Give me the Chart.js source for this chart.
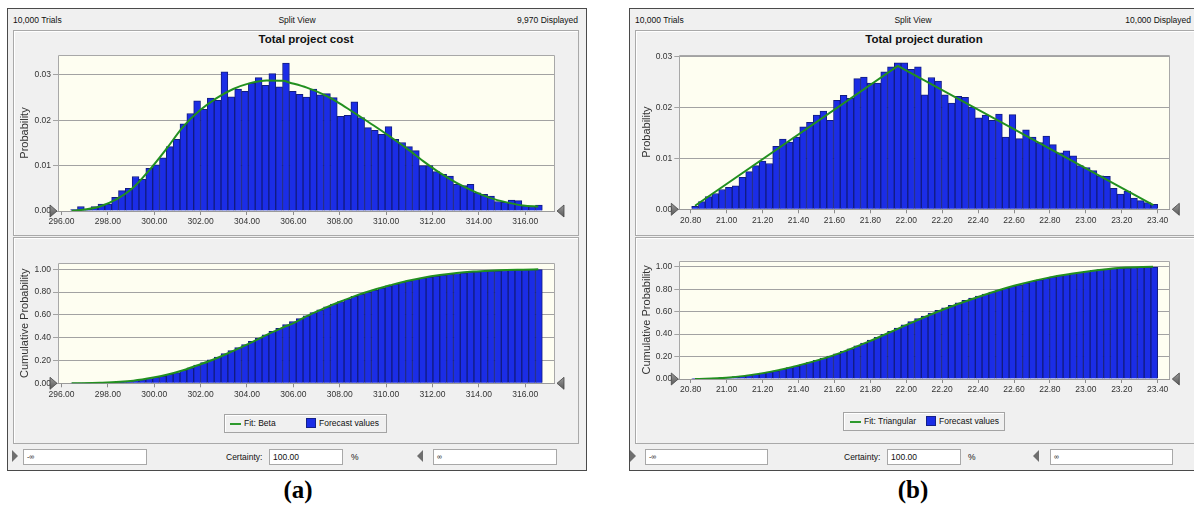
<!DOCTYPE html>
<html>
<head>
<meta charset="utf-8">
<script src="https://cdn.jsdelivr.net/npm/chart.js@4.4.1/dist/chart.umd.min.js"></script>
<style>
  html, body { margin: 0; padding: 0; }
  body { width: 1194px; height: 506px; background: #fff; position: relative; overflow: hidden;
         font-family: "Liberation Sans", Arial, sans-serif; }
  .abs { position: absolute; }
  .panel { position: absolute; background: #f0f0f0; border: 1px solid #4a4a4a; box-sizing: border-box; }
  .frame { position: absolute; border: 1px solid #a9a9a9; box-sizing: border-box; box-shadow: inset 1px 1px 0 #fff; }
  .t { position: absolute; font-size: 8.5px; color: #111; white-space: nowrap; line-height: 10px; }
  .title { position: absolute; font-size: 11.5px; font-weight: bold; color: #111; white-space: nowrap; line-height: 14px; text-align: center; }
  canvas { position: absolute; z-index: 2; }
  .legend { position: absolute; border: 1px solid #a4a4a4; box-sizing: border-box; box-shadow: inset 1px 1px 0 #fff; background: #f0f0f0; }
  .swl { position: absolute; height: 2px; background: #2e9a2e; }
  .sws { position: absolute; width: 10px; height: 10px; background: #1b2de6; box-sizing: border-box; border: 1px solid #14208a; }
  .box { position: absolute; height: 16px; background: #fff; border: 1px solid #a8a8a8; box-sizing: border-box; font-size: 8.5px; line-height: 14px; padding-left: 3px; color: #111; }
  .box.small { font-size: 7px; }
  .triR { position: absolute; width: 0; height: 0; border-top: 6.5px solid transparent; border-bottom: 6.5px solid transparent; border-left: 6px solid #6e6e6e; }
  .triL { position: absolute; width: 0; height: 0; border-top: 6.5px solid transparent; border-bottom: 6.5px solid transparent; border-right: 6px solid #6e6e6e; }
  .cap { position: absolute; font-family: "Liberation Serif", "Times New Roman", serif; font-weight: bold; font-size: 25px; line-height: 28px; width: 80px; text-align: center; color: #000; }
</style>
</head>
<body>

<!-- Panel (a): Total project cost -->
<div class="panel" style="left:7px;top:8px;width:580px;height:463px;"></div>
<div class="t" style="left:13px;top:15px;">10,000 Trials</div>
<div class="t" style="left:247px;top:15px;width:100px;text-align:center;">Split View</div>
<div class="t" style="left:478px;top:15px;width:100px;text-align:right;">9,970 Displayed</div>
<div class="frame" style="left:13px;top:30px;width:566px;height:206px;"></div>
<div class="frame" style="left:13px;top:237px;width:566px;height:207px;"></div>
<div class="title" style="left:206px;top:32px;width:200px;">Total project cost</div>
<canvas id="costPdf"></canvas>
<canvas id="costCdf"></canvas>
<div class="legend" style="left:224px;top:414px;width:163px;height:19px;"></div>
<div class="swl" style="left:230px;top:423px;width:11px;"></div>
<div class="t" style="left:244px;top:418px;">Fit: Beta</div>
<div class="sws" style="left:306px;top:418px;"></div>
<div class="t" style="left:319px;top:418px;">Forecast values</div>
<div class="triR" style="left:12px;top:450px;"></div>
<div class="box small" style="left:23px;top:449px;width:124px;">-∞</div>
<div class="t" style="left:226px;top:452px;">Certainty:</div>
<div class="box" style="left:269px;top:449px;width:74px;">100.00</div>
<div class="t" style="left:351px;top:452px;">%</div>
<div class="triL" style="left:417px;top:450px;"></div>
<div class="box small" style="left:433px;top:449px;width:124px;">∞</div>
<div class="cap" style="left:258px;top:476px;">(a)</div>

<!-- Panel (b): Total project duration -->
<div class="panel" style="left:629px;top:8px;width:580px;height:463px;"></div>
<div class="t" style="left:635px;top:15px;">10,000 Trials</div>
<div class="t" style="left:863px;top:15px;width:100px;text-align:center;">Split View</div>
<div class="t" style="left:1091px;top:15px;width:100px;text-align:right;">10,000 Displayed</div>
<div class="frame" style="left:635px;top:30px;width:570px;height:206px;"></div>
<div class="frame" style="left:635px;top:237px;width:570px;height:207px;"></div>
<div class="title" style="left:824px;top:32px;width:200px;">Total project duration</div>
<canvas id="durPdf"></canvas>
<canvas id="durCdf"></canvas>
<div class="legend" style="left:843px;top:412px;width:162px;height:19px;"></div>
<div class="swl" style="left:850px;top:421px;width:11px;"></div>
<div class="t" style="left:864px;top:416px;">Fit: Triangular</div>
<div class="sws" style="left:926px;top:416px;"></div>
<div class="t" style="left:939px;top:416px;">Forecast values</div>
<div class="triR" style="left:630px;top:450px;"></div>
<div class="box small" style="left:645px;top:449px;width:123px;">-∞</div>
<div class="t" style="left:844px;top:452px;">Certainty:</div>
<div class="box" style="left:887px;top:449px;width:74px;">100.00</div>
<div class="t" style="left:968px;top:452px;">%</div>
<div class="triL" style="left:1033px;top:450px;"></div>
<div class="box small" style="left:1050px;top:449px;width:123px;">∞</div>
<div class="cap" style="left:873px;top:476px;">(b)</div>

<script>
// ---------- Total project cost ----------
const costBinStart = 296.395;
const costBinWidth = 0.2948;
const costProb = [
  0.0003, 0.0010, 0.0004, 0.0010, 0.0015, 0.0015, 0.0030, 0.0045, 0.0050, 0.0076,
  0.0070, 0.0094, 0.0102, 0.0117, 0.0142, 0.0158, 0.0192, 0.0215, 0.0243, 0.0224,
  0.0249, 0.0244, 0.0307, 0.0252, 0.0269, 0.0264, 0.0282, 0.0294, 0.0277, 0.0303,
  0.0274, 0.0326, 0.0264, 0.0257, 0.0251, 0.0269, 0.0256, 0.0259, 0.0250, 0.0209,
  0.0211, 0.0241, 0.0206, 0.0184, 0.0178, 0.0169, 0.0186, 0.0158, 0.0151, 0.0142,
  0.0133, 0.0100, 0.0100, 0.0087, 0.0081, 0.0077, 0.0059, 0.0056, 0.0059, 0.0040,
  0.0037, 0.0033, 0.0021, 0.0019, 0.0024, 0.0023, 0.0012, 0.0010, 0.0013
];
// Beta fit curve
const costFitX = [296.44, 296.66, 297.66, 298.38, 299.10, 299.82, 300.54, 301.25, 301.97, 302.69,
                  303.41, 304.13, 304.85, 305.56, 305.85, 306.58, 307.29, 308.01, 308.73, 309.45,
                  310.17, 310.89, 311.60, 312.32, 313.04, 313.76, 314.48, 315.20, 315.91, 316.56];
const costFitY = [0.0000, 0.0001, 0.0010, 0.0026, 0.0052, 0.0092, 0.0138, 0.0186, 0.0222, 0.0249,
                  0.0269, 0.0282, 0.0288, 0.0287, 0.0283, 0.0272, 0.0257, 0.0237, 0.0213, 0.0189,
                  0.0164, 0.0138, 0.0110, 0.0084, 0.0062, 0.0044, 0.0029, 0.0019, 0.0012, 0.0010];
// Beta fit, cumulative
const costCumFitX = [296.44, 297.66, 299.10, 299.96, 300.54, 301.25, 301.97, 302.69, 303.41, 304.13,
                     304.85, 305.56, 306.07, 306.58, 307.29, 308.01, 308.73, 309.45, 310.17, 310.89,
                     311.60, 312.32, 313.04, 313.76, 314.48, 315.20, 315.91, 316.56];
const costCumFitY = [0.000, 0.005, 0.023, 0.050, 0.075, 0.115, 0.165, 0.220, 0.285, 0.352,
                     0.425, 0.490, 0.535, 0.590, 0.655, 0.716, 0.772, 0.819, 0.860, 0.898,
                     0.927, 0.950, 0.968, 0.980, 0.988, 0.994, 0.997, 1.000];
const costTicks = [296, 298, 300, 302, 304, 306, 308, 310, 312, 314, 316];
const costProbTicks = [0, 0.01, 0.02, 0.03];

// ---------- Total project duration ----------
const durBinStart = 20.8054;
const durBinWidth = 0.0376;
const durProb = [
  0.0006, 0.0015, 0.0025, 0.0031, 0.0039, 0.0043, 0.0046, 0.0063, 0.0074, 0.0086,
  0.0095, 0.0090, 0.0124, 0.0138, 0.0132, 0.0142, 0.0162, 0.0171, 0.0185, 0.0193,
  0.0175, 0.0214, 0.0224, 0.0218, 0.0257, 0.0260, 0.0248, 0.0248, 0.0270, 0.0280,
  0.0288, 0.0288, 0.0275, 0.0280, 0.0225, 0.0259, 0.0252, 0.0225, 0.0209, 0.0222,
  0.0220, 0.0201, 0.0180, 0.0185, 0.0175, 0.0187, 0.0142, 0.0186, 0.0139, 0.0156,
  0.0142, 0.0131, 0.0144, 0.0127, 0.0111, 0.0115, 0.0105, 0.0086, 0.0082, 0.0076,
  0.0066, 0.0065, 0.0041, 0.0030, 0.0036, 0.0022, 0.0017, 0.0013, 0.0010
];
// Triangular fit
const durFitX = [20.824, 21.953, 23.376];
const durFitY = [0.0007, 0.0282, 0.0008];
// Triangular fit, cumulative
const durCumFitX = [20.824, 20.997, 21.195, 21.396, 21.594, 21.794, 21.999, 22.199, 22.400, 22.600,
                    22.800, 23.000, 23.200, 23.374];
const durCumFitY = [0.000, 0.012, 0.050, 0.119, 0.210, 0.335, 0.480, 0.614, 0.730, 0.830,
                    0.905, 0.955, 0.991, 1.000];
const durTicks = [20.8, 21.0, 21.2, 21.4, 21.6, 21.8, 22.0, 22.2, 22.4, 22.6, 22.8, 23.0, 23.2, 23.4];
const durProbTicks = [0, 0.01, 0.02, 0.03];

const cumTicks = [0, 0.2, 0.4, 0.6, 0.8, 1.0];

// ---------- helpers ----------
const FONT = '"Liberation Sans", Arial, sans-serif';

function binPoints(start, width, values) {
  return values.map((v, i) => ({ x: start + (i + 0.5) * width, y: v }));
}
function cumulative(values) {
  let s = 0;
  return values.map(v => (s += v));
}
function pairs(xs, ys) {
  return xs.map((x, i) => ({ x: x, y: ys[i] }));
}

function grabber(ctx, x, y, dir) {
  ctx.beginPath();
  if (dir > 0) { ctx.moveTo(x, y - 6); ctx.lineTo(x + 7, y); ctx.lineTo(x, y + 6); }
  else { ctx.moveTo(x + 7, y - 6); ctx.lineTo(x, y); ctx.lineTo(x + 7, y + 6); }
  ctx.closePath();
  const g = ctx.createLinearGradient(x, y - 6, x, y + 6);
  g.addColorStop(0, '#9a9a9a'); g.addColorStop(1, '#5a5a5a');
  ctx.fillStyle = g; ctx.fill();
  ctx.strokeStyle = '#444'; ctx.lineWidth = 0.8; ctx.stroke();
}

const plotFrame = {
  id: 'plotFrame',
  beforeDraw(chart) {
    const { ctx, chartArea: a } = chart;
    ctx.save();
    ctx.fillStyle = '#fefef1';
    ctx.fillRect(a.left, a.top, a.right - a.left, a.bottom - a.top);
    ctx.restore();
  },
  afterDraw(chart) {
    const { ctx, chartArea: a } = chart;
    ctx.save();
    ctx.strokeStyle = '#a8a8a8'; ctx.lineWidth = 1;
    const l = Math.round(a.left) + 0.5, t = Math.round(a.top) + 0.5, r = Math.round(a.right) + 0.5;
    ctx.beginPath();
    ctx.moveTo(l, Math.round(a.bottom)); ctx.lineTo(l, t); ctx.lineTo(r, t); ctx.lineTo(r, Math.round(a.bottom));
    ctx.stroke();
    const y0 = chart.scales.y.getPixelForValue(0);
    grabber(ctx, a.left - 8, y0, 1);
    grabber(ctx, a.right + 3, y0, -1);
    ctx.restore();
  }
};

function histChart(id, box, plot, cfg) {
  const cv = document.getElementById(id);
  cv.width = box.w; cv.height = box.h;
  cv.style.left = box.x + 'px'; cv.style.top = box.y + 'px';
  cv.style.width = box.w + 'px'; cv.style.height = box.h + 'px';
  const yW = plot.l - box.x;
  const padTop = plot.t - box.y;
  const padRight = box.x + box.w - plot.r;
  const xH = box.y + box.h - plot.b;

  return new Chart(cv, {
    type: 'bar',
    data: {
      datasets: [
        {
          type: 'line', data: cfg.fit, borderColor: '#22901f', borderWidth: 2,
          pointRadius: 0, tension: cfg.tension,
          cubicInterpolationMode: cfg.tension ? 'monotone' : 'default', order: 0
        },
        {
          type: 'bar', data: cfg.bars, backgroundColor: '#1b2de6', borderColor: '#121c80',
          borderWidth: 1, barPercentage: 1, categoryPercentage: 1, order: 1
        }
      ]
    },
    options: {
      responsive: false, animation: false, devicePixelRatio: 1,
      layout: { padding: { left: 0, top: padTop, right: padRight, bottom: 0 } },
      plugins: { legend: { display: false }, tooltip: { enabled: false }, title: { display: false } },
      scales: {
        x: {
          type: 'linear', min: cfg.xMin, max: cfg.xMax, offset: false,
          afterBuildTicks: s => { s.ticks = cfg.xTicks.map(v => ({ value: v })); },
          afterFit: s => { s.height = xH; },
          ticks: { callback: v => Number(v).toFixed(2), maxRotation: 0, minRotation: 0, autoSkip: false,
                   padding: 2, color: '#333', font: { family: FONT, size: 8.5 } },
          grid: { drawOnChartArea: false, drawTicks: true, tickLength: 4, color: '#8c8c8c', offset: false },
          border: { color: '#9a9a9a' }
        },
        y: {
          type: 'linear', min: 0, max: cfg.yMax,
          afterBuildTicks: s => { s.ticks = cfg.yTicks.map(v => ({ value: v })); },
          afterFit: s => { s.width = yW; },
          ticks: { callback: v => Number(v).toFixed(2), padding: 2, color: '#333',
                   font: { family: FONT, size: 8.5 } },
          grid: { color: '#a2a2a2', tickLength: 5 },
          border: { display: false },
          title: { display: true, text: cfg.yTitle, color: '#333',
                   font: { family: FONT, size: 11 }, padding: { top: 5, bottom: 0 } }
        }
      }
    },
    plugins: [plotFrame]
  });
}

// ---------- charts ----------
histChart('costPdf', { x: 13, y: 30, w: 570, h: 205 }, { l: 58, t: 55, r: 554, b: 211 }, {
  bars: binPoints(costBinStart, costBinWidth, costProb),
  fit: pairs(costFitX, costFitY), tension: 0.4,
  xMin: 295.85, xMax: 317.24, xTicks: costTicks,
  yMax: 0.0344, yTicks: costProbTicks, yTitle: 'Probability'
});
histChart('costCdf', { x: 13, y: 238, w: 570, h: 170 }, { l: 58, t: 263.3, r: 554, b: 383.3 }, {
  bars: binPoints(costBinStart, costBinWidth, cumulative(costProb)),
  fit: pairs(costCumFitX, costCumFitY), tension: 0.4,
  xMin: 295.85, xMax: 317.24, xTicks: costTicks,
  yMax: 1.053, yTicks: cumTicks, yTitle: 'Cumulative Probability'
});
histChart('durPdf', { x: 635, y: 30, w: 559, h: 205 }, { l: 679.3, t: 55, r: 1169.3, b: 209.3 }, {
  bars: binPoints(durBinStart, durBinWidth, durProb),
  fit: pairs(durFitX, durFitY), tension: 0,
  xMin: 20.7365, xMax: 23.4646, xTicks: durTicks,
  yMax: 0.03033, yTicks: durProbTicks, yTitle: 'Probability'
});
histChart('durCdf', { x: 635, y: 236, w: 559, h: 170 }, { l: 679.3, t: 260.7, r: 1169.3, b: 379 }, {
  bars: binPoints(durBinStart, durBinWidth, cumulative(durProb)),
  fit: pairs(durCumFitX, durCumFitY), tension: 0.4,
  xMin: 20.7365, xMax: 23.4646, xTicks: durTicks,
  yMax: 1.0534, yTicks: cumTicks, yTitle: 'Cumulative Probability'
});
</script>
</body>
</html>
